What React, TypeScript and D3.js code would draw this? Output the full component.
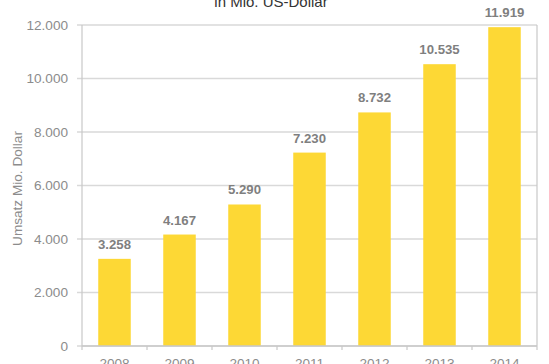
import * as d3 from 'd3';

const years = ['2008', '2009', '2010', '2011', '2012', '2013', '2014'];
const revenue = [3258, 4167, 5290, 7230, 8732, 10535, 11919];
const yTicks = [0, 2000, 4000, 6000, 8000, 10000, 12000];

const fmt = (v: number) => d3.format(',')(v).replace(/,/g, '.');

export default function App() {
  const width = 549;
  const height = 364;
  const left = 82;
  const right = 537;
  const top = 25;
  const bottom = 346;

  const x = d3.scaleBand().domain(years).range([left, right]).paddingInner(0.5).paddingOuter(0.25);
  const y = d3.scaleLinear().domain([0, 12000]).range([bottom, top]);
  const step = x.step();
  const font = 'Arial, "Liberation Sans", Helvetica, sans-serif';

  return (
    <svg
      width={width}
      height={height}
      style={{ position: 'absolute', left: 0, top: 0, fontFamily: font }}
    >
      <text x={271} y={7} textAnchor="middle" fontSize={15} fill="#333">
        in Mio. US-Dollar
      </text>

      {yTicks.map((t) => (
        <g key={t}>
          <line x1={left - 5} x2={right} y1={y(t)} y2={y(t)} stroke="#d9d9d9" strokeWidth={1.5} />
          <text x={68} y={y(t)} dy="0.35em" textAnchor="end" fontSize={13.6} fill="#8c8c8c">
            {fmt(t)}
          </text>
        </g>
      ))}

      {/* frame */}
      <line x1={left} x2={left} y1={top} y2={bottom + 4} stroke="#c8c8c8" strokeWidth={1.2} />
      <line x1={right} x2={right} y1={top} y2={bottom + 4} stroke="#c8c8c8" strokeWidth={1.2} />

      {years.map((yr, i) => (
        <g key={yr}>
          <rect
            x={x(yr)}
            y={y(revenue[i])}
            width={x.bandwidth()}
            height={bottom - y(revenue[i])}
            fill="#fdd835"
          />
          <text
            x={(x(yr) ?? 0) + x.bandwidth() / 2}
            y={y(revenue[i]) - 10}
            textAnchor="middle"
            fontSize={13.2}
            fontWeight="bold"
            fill="#7f7f7f"
          >
            {fmt(revenue[i])}
          </text>
          <text
            x={(x(yr) ?? 0) + x.bandwidth() / 2}
            y={368}
            textAnchor="middle"
            fontSize={13.6}
            fill="#8c8c8c"
          >
            {yr}
          </text>
          {i > 0 && (
            <line
              x1={left + step * i}
              x2={left + step * i}
              y1={bottom}
              y2={bottom + 4}
              stroke="#c8c8c8"
              strokeWidth={1.2}
            />
          )}
        </g>
      ))}

      <line x1={left} x2={right} y1={bottom} y2={bottom} stroke="#c8c8c8" strokeWidth={1.5} />

      <text
        transform={`translate(22, ${(top + bottom) / 2 + 3}) rotate(-90)`}
        textAnchor="middle"
        fontSize={13.6}
        fill="#8c8c8c"
      >
        Umsatz Mio. Dollar
      </text>
    </svg>
  );
}
